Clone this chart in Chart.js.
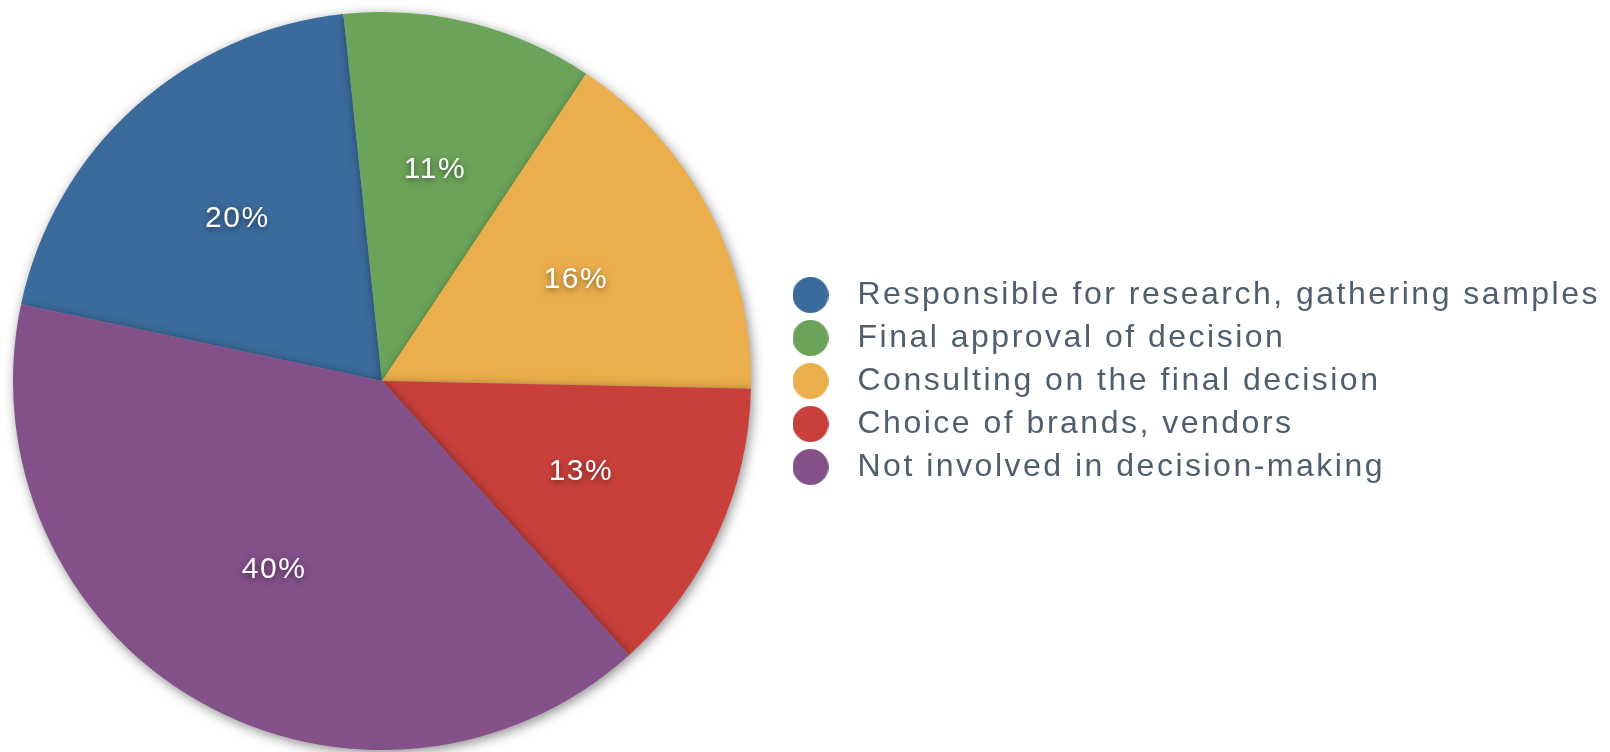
<!DOCTYPE html>
<html>
<head>
<meta charset="utf-8">
<script src="https://cdn.jsdelivr.net/npm/chart.js@4/dist/chart.umd.min.js"></script>
<style>
  html, body { margin: 0; padding: 0; background: #fff; }
  #wrap { width: 1610px; height: 752px; }
</style>
</head>
<body>
<div id="wrap"><canvas id="myChart"></canvas></div>
<script>
var etiquetas = [
    'Responsible for research, gathering samples',
    'Final approval of decision',
    'Consulting on the final decision',
    'Choice of brands, vendors',
    'Not involved in decision-making'
];
var valores = [20, 11, 16, 13, 40];
var colores = ['#3b6b9c', '#6ca35a', '#ebae4c', '#c9403b', '#835089'];

// circulo de la leyenda
function punto(color){
    var c = document.createElement('canvas');
    c.width = 36;
    c.height = 36;
    var x = c.getContext('2d');
    x.fillStyle = color;
    x.beginPath();
    x.arc(18, 18, 18, 0, Math.PI * 2);
    x.fill();
    return c;
}
var puntos = colores.map(punto);

// sombra de las porciones
var sombra = {
    id: 'sombra',
    beforeDatasetDraw: function(chart){
        var ctx = chart.ctx;
        ctx.save();
        ctx.shadowColor = 'rgba(0,0,0,0.45)';
        ctx.shadowBlur = 12;
        ctx.shadowOffsetX = 2;
        ctx.shadowOffsetY = 3;
    },
    afterDatasetDraw: function(chart){
        chart.ctx.restore();
    }
};

// espaciado de letras de la leyenda y ancho del area del pastel
var espaciado = {
    id: 'espaciado',
    beforeLayout: function(chart){ chart.ctx.letterSpacing = '2.5px'; },
    afterLayout: function(chart){
        chart.ctx.letterSpacing = '0px';
        var area = chart.chartArea;
        area.right = area.left + 764;
        area.width = 764;
    },
    beforeDraw: function(chart){ chart.ctx.letterSpacing = '2.5px'; },
    beforeDatasetsDraw: function(chart){ chart.ctx.letterSpacing = '0px'; }
};

// porcentajes dentro de cada porcion
var textos = {
    id: 'textos',
    afterDatasetsDraw: function(chart){
        var ctx = chart.ctx;
        var meta = chart.getDatasetMeta(0);
        var total = valores.reduce(function(a, b){ return a + b; }, 0);
        ctx.save();
        ctx.font = '30px "Liberation Sans", Arial, sans-serif';
        ctx.letterSpacing = '1.5px';
        ctx.fillStyle = '#ffffff';
        ctx.textAlign = 'center';
        ctx.textBaseline = 'middle';
        ctx.shadowColor = 'rgba(0,0,0,0.5)';
        ctx.shadowBlur = 6;
        ctx.shadowOffsetY = 2;
        meta.data.forEach(function(arc, i){
            var p = arc.getProps(['x', 'y', 'startAngle', 'endAngle', 'outerRadius']);
            var a = (p.startAngle + p.endAngle) / 2;
            var r = p.outerRadius * 0.59;
            var txt = Math.round(valores[i] / total * 100) + '%';
            ctx.fillText(txt, p.x + Math.cos(a) * r + 1, p.y + Math.sin(a) * r);
        });
        ctx.restore();
    }
};

var chart = new Chart(document.getElementById('myChart'), {
    type: 'pie',
    data: {
        labels: etiquetas,
        datasets: [{
            data: valores,
            backgroundColor: colores,
            borderWidth: 0
        }]
    },
    options: {
        responsive: true,
        maintainAspectRatio: false,
        animation: false,
        rotation: -78,
        layout: { padding: { top: 12, bottom: 2, left: 0, right: 0 } },
        plugins: {
            tooltip: { enabled: false },
            legend: {
                position: 'right',
                align: 'center',
                maxWidth: 900,
                labels: {
                    usePointStyle: true,
                    pointStyleWidth: 62,
                    boxHeight: 32,
                    padding: 11,
                    color: '#4f5e6d',
                    font: { size: 32, family: '"Liberation Sans", Arial, sans-serif' },
                    generateLabels: function(chart){
                        var items = Chart.overrides.pie.plugins.legend.labels.generateLabels(chart);
                        items.forEach(function(it, i){ it.pointStyle = puntos[i]; });
                        return items;
                    }
                }
            }
        }
    },
    plugins: [sombra, espaciado, textos]
});
</script>
</body>
</html>
